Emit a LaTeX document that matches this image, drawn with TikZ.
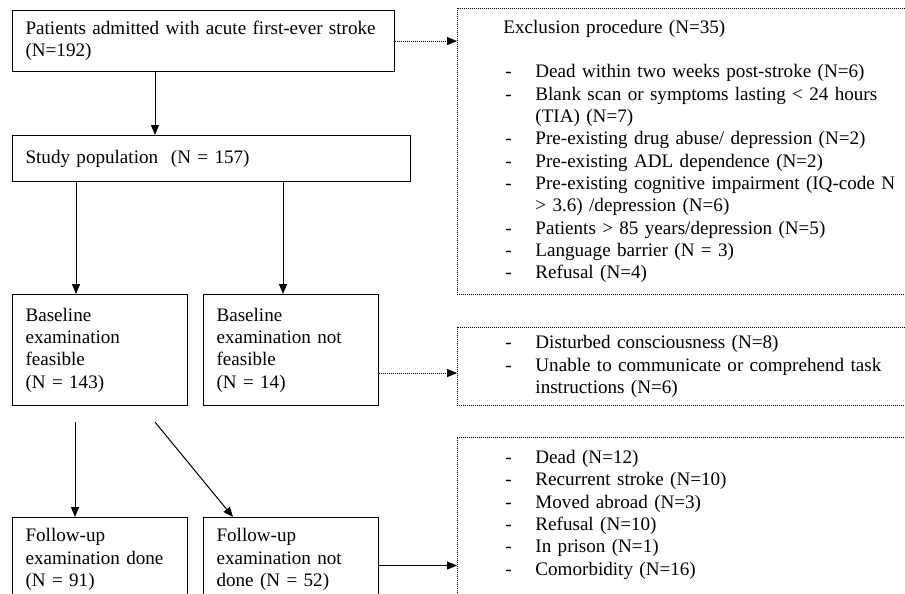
\documentclass[tikz,border=0pt]{standalone}
\usepackage{fontspec}
\setmainfont{Liberation Serif}
\usetikzlibrary{arrows.meta, positioning}

\newcommand{\listdash}{\makebox[32pt][l]{\hspace{2pt}-}}
\newcommand{\listcont}{\hspace*{32pt}}

\begin{document}
\begin{tikzpicture}[x=1pt, y=-1pt,
        every node/.style={font=\fontsize{19.1}{22.3}\selectfont, align=left,
            inner xsep=13pt, inner ysep=0pt, anchor=north west},
        box/.style={draw, line width=1.1pt},
        dotbox/.style={draw, line width=0.9pt, dash pattern=on 1pt off 1pt,
            inner xsep=46pt, text width=410pt},
        arr/.style={line width=1pt, -{Triangle[length=10pt, width=8pt]}},
        dotarr/.style={arr, dash pattern=on 1pt off 1pt}
    ]
        \useasboundingbox (0,0) rectangle (905,594);
        \clip (0,0) rectangle (905,594);

        % Cột chính
        \node [box, text width=356pt, minimum height=61pt] (pat) at (12,10)
            {Patients admitted with acute first-ever stroke\\(N=192)};
        \node [box, text width=372pt, minimum height=46pt] (study) at (12,135)
            {Study population\ \ (N = 157)};
        \node [box, text width=149pt, minimum height=111pt] (feas) at (12,294)
            {Baseline\\examination\\feasible\\(N = 143)};
        \node [box, text width=149pt, minimum height=111pt] (notfeas) at (203,294)
            {Baseline\\examination not\\feasible\\(N = 14)};
        \node [box, text width=149pt, minimum height=84pt] (done) at (12,517)
            {Follow-up\\examination done\\(N = 91)};
        \node [box, text width=149pt, minimum height=84pt] (notdone) at (203,517)
            {Follow-up\\examination not\\done (N = 52)};

        % Các hộp loại trừ
        \node [dotbox, minimum height=286pt] (excl) at (457,8)
            {Exclusion procedure (N=35)\\[22.3pt]
             \listdash Dead within two weeks post-stroke (N=6)\\
             \listdash Blank scan or symptoms lasting < 24 hours\\
             \listcont (TIA) (N=7)\\
             \listdash Pre-existing drug abuse/ depression (N=2)\\
             \listdash Pre-existing ADL dependence (N=2)\\
             \listdash Pre-existing cognitive impairment (IQ-code N\\
             \listcont > 3.6) /depression (N=6)\\
             \listdash Patients > 85 years/depression (N=5)\\
             \listdash Language barrier (N = 3)\\
             \listdash Refusal (N=4)};
        \node [dotbox, minimum height=78pt] (excl2) at (457,327)
            {\listdash Disturbed consciousness (N=8)\\
             \listdash Unable to communicate or comprehend task\\
             \listcont instructions (N=6)};
        \node [dotbox, minimum height=195pt] (excl3) at (457,437)
            {\listdash Dead (N=12)\\
             \listdash Recurrent stroke (N=10)\\
             \listdash Moved abroad (N=3)\\
             \listdash Refusal (N=10)\\
             \listdash In prison (N=1)\\
             \listdash Comorbidity (N=16)\\
             \mbox{}\\
             \mbox{}};

        % Các mũi tên
        \draw[arr] ([xshift=143pt]pat.south west) -- ([xshift=143pt]study.north west);
        \draw[arr] ([xshift=64pt]study.south west) -- ([xshift=64pt]feas.north west);
        \draw[arr] ([xshift=271pt]study.south west) -- ([xshift=80pt]notfeas.north west);
        \draw[dotarr] (pat.east) -- (pat.east -| excl.west);
        \coordinate (nf) at ([yshift=-23pt]notfeas.east);
        \draw[dotarr] (nf) -- (nf -| excl2.west);
        \draw[arr] ([xshift=63pt, yshift=-16pt]feas.south west) -- ([xshift=63pt]done.north west);
        \draw[arr] ([xshift=143pt, yshift=-16pt]feas.south west) -- ([xshift=30pt]notdone.north west);
        \coordinate (nd) at ([yshift=-6pt]notdone.east);
        \draw[arr] (nd) -- (nd -| excl3.west);
    \end{tikzpicture}
\end{document}
